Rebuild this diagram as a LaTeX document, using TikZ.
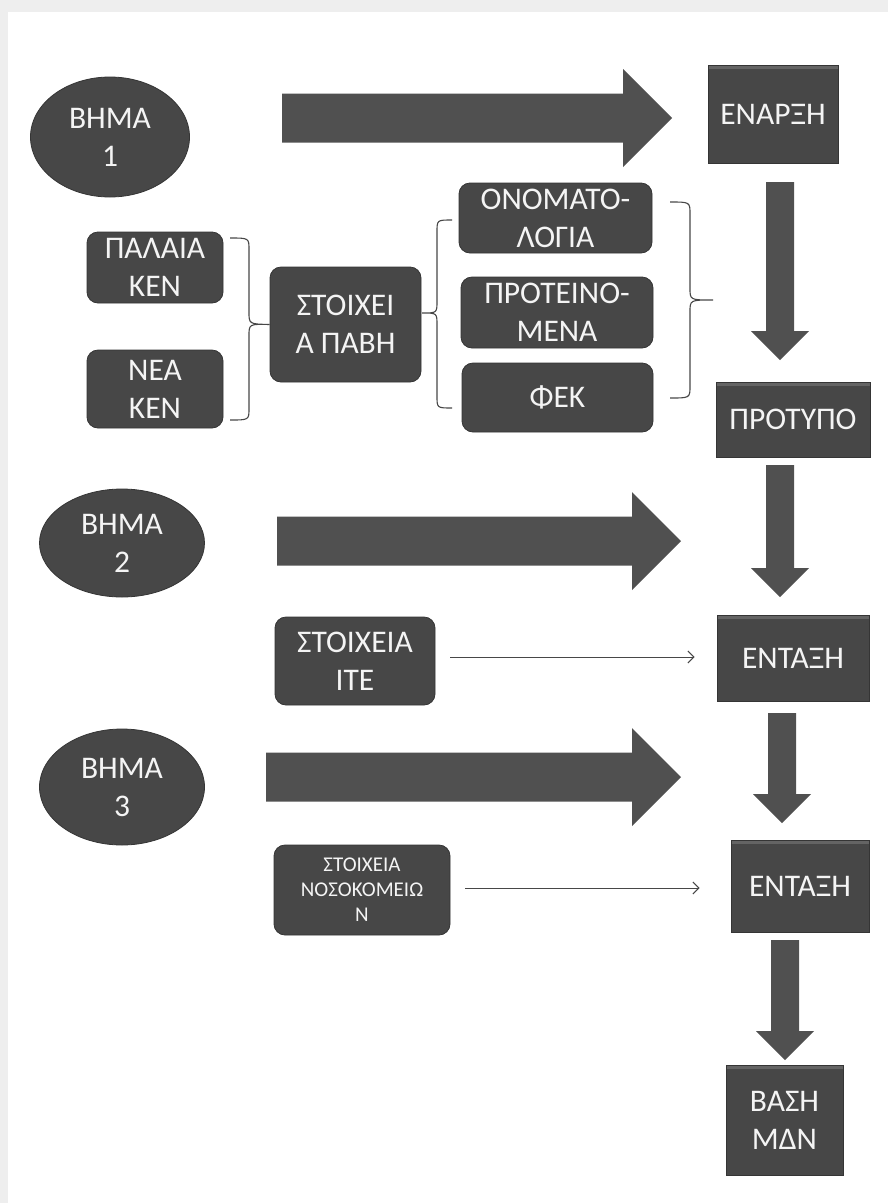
\documentclass[tikz,border=0pt]{standalone}
\usepackage{fontspec}
\setmainfont{Carlito}
\usetikzlibrary{shapes.geometric,arrows.meta,calc}
\definecolor{boxgray}{HTML}{474747}
\definecolor{arrowgray}{HTML}{505050}
\definecolor{edgegray}{HTML}{353535}
\definecolor{linegray}{HTML}{474747}
\definecolor{pagerim}{HTML}{EEEEEE}
\definecolor{labelwhite}{HTML}{F4F4F4}

% block arrow pointing right: #1 tail coordinate, #2 tip coordinate
\newcommand\flowblockR[2]{%
  \fill[arrowgray] ($(#1)+(0,-24.5)$) -- ($(#2)+(-49,-24.5)$) -- ($(#2)+(-49,-49)$)
    -- (#2) -- ($(#2)+(-49,49)$) -- ($(#2)+(-49,24.5)$) -- ($(#1)+(0,24.5)$) -- cycle;}
% block arrow pointing down: #1 tail coordinate, #2 tip coordinate
\newcommand\flowblockD[2]{%
  \fill[arrowgray] ($(#1)+(-14,0)$) -- ($(#2)+(-14,-29)$) -- ($(#2)+(-29,-29)$)
    -- (#2) -- ($(#2)+(29,-29)$) -- ($(#2)+(14,-29)$) -- ($(#1)+(14,0)$) -- cycle;}

\begin{document}
\begin{tikzpicture}[x=1pt,y=-1pt,
  every node/.style={text=labelwhite, align=center, inner sep=0pt},
  bigfont/.style={font=\fontsize{31.5}{38}\selectfont},
  smallfont/.style={font=\fontsize{21}{25}\selectfont},
  stepoval/.style={ellipse, fill=boxgray, draw=edgegray, line width=0.8pt, bigfont},
  roundbox/.style={rectangle, rounded corners=11pt, fill=boxgray, draw=edgegray, line width=0.8pt, bigfont},
  stagebox/.style={rectangle, fill=boxgray, draw=edgegray, line width=0.8pt, bigfont,
    path picture={\fill[white,opacity=0.16] (path picture bounding box.north west)
      rectangle ([yshift=-4pt]path picture bounding box.north east);}},
  feed/.style={draw=linegray, line width=1pt, -{Straight Barb[length=6pt,width=12pt]}},
  bracket/.style={draw=linegray, line width=1.1pt}
]
\useasboundingbox (0,0) rectangle (888,1203);
% page and scanner rim
\fill[pagerim] (0,0) rectangle (888,1203);
\fill[white] (8,12) rectangle (888,1203);

% steps
\node[stepoval, minimum width=159pt, minimum height=120pt] (b1) at (110,137) {ΒΗΜΑ\\1};
\node[stepoval, minimum width=165pt, minimum height=108pt] (b2) at (122,543) {ΒΗΜΑ\\2};
\node[stepoval, minimum width=165pt, minimum height=116pt] (b3) at (122,787) {ΒΗΜΑ\\3};

% sources of the data
\node[roundbox, minimum width=136pt, minimum height=71pt] (palaia) at (155,267.5) {ΠΑΛΑΙΑ\\ΚΕΝ};
\node[roundbox, minimum width=136pt, minimum height=78pt] (nea) at (155,389) {ΝΕΑ\\ΚΕΝ};
\node[roundbox, minimum width=151pt, minimum height=115pt] (stoix) at (345.5,324.5) {ΣΤΟΙΧΕΙ\\Α ΠΑΒΗ};
\node[roundbox, minimum width=193pt, minimum height=70pt] (onoma) at (555.5,218) {ΟΝΟΜΑΤΟ-\\ΛΟΓΙΑ};
\node[roundbox, minimum width=192pt, minimum height=71pt] (proteino) at (557,312.5) {ΠΡΟΤΕΙΝΟ-\\ΜΕΝΑ};
\node[roundbox, minimum width=191pt, minimum height=69pt] (fek) at (557.5,397.5) {ΦΕΚ};
\node[roundbox, minimum width=160pt, minimum height=88pt] (ite) at (355,661) {ΣΤΟΙΧΕΙΑ\\ΙΤΕ};
\node[roundbox, smallfont, minimum width=176pt, minimum height=90pt] (noso) at (362,890) {ΣΤΟΙΧΕΙΑ\\ΝΟΣΟΚΟΜΕΙΩ\\Ν};

% stages of the main column
\node[stagebox, minimum width=130pt, minimum height=98pt] (enarxi) at (773,114) {ΕΝΑΡΞΗ};
\node[stagebox, minimum width=154pt, minimum height=75pt] (protypo) at (793,419.5) {ΠΡΟΤΥΠΟ};
\node[stagebox, minimum width=152pt, minimum height=86pt] (entaxi1) at (793,658) {ΕΝΤΑΞΗ};
\node[stagebox, minimum width=138pt, minimum height=92pt] (entaxi2) at (800,886) {ΕΝΤΑΞΗ};
\node[stagebox, minimum width=117pt, minimum height=110pt] (vasi) at (784.5,1120) {ΒΑΣΗ\\ΜΔΝ};

% wide arrows from each step
\coordinate (r1t) at (282,118);  \coordinate (r1h) at (672,118);
\coordinate (r2t) at (277,541);  \coordinate (r2h) at (681,541);
\coordinate (r3t) at (266,777);  \coordinate (r3h) at (681,777);
\flowblockR{r1t}{r1h}
\flowblockR{r2t}{r2h}
\flowblockR{r3t}{r3h}

% downward arrows between stages
\coordinate (d1t) at (780,182);  \coordinate (d1h) at (780,360);
\coordinate (d2t) at (780,465);  \coordinate (d2h) at (780,597);
\coordinate (d3t) at (782,713);  \coordinate (d3h) at (782,823);
\coordinate (d4t) at (785,940);  \coordinate (d4h) at (785,1060);
\flowblockD{d1t}{d1h}
\flowblockD{d2t}{d2h}
\flowblockD{d3t}{d3h}
\flowblockD{d4t}{d4h}

% thin feeds into the integration stages
\draw[feed] ($(ite.east)+(15,-4)$) -- ($(entaxi1.west)+(-22,-1)$);
\draw[feed] ($(noso.east)+(15,-2)$) -- ($(entaxi2.west)+(-31,2)$);

% brackets grouping the sources
\draw[bracket] (230,238) .. controls (249,238) .. (249,250) -- (249,312)
  .. controls (249,324) .. (stoix.west) .. controls (249,324) .. (249,336)
  -- (249,408) .. controls (249,420) .. (230,420);
\draw[bracket] (452,220) .. controls (437,220) .. (437,232) -- (437,301)
  .. controls (437,313) .. (422,313) .. controls (437,313) .. (437,325)
  -- (437,396) .. controls (437,408) .. (452,408);
\draw[bracket] (670,202) .. controls (690,202) .. (690,214) -- (690,288)
  .. controls (690,300) .. (713,300) .. controls (690,300) .. (690,312)
  -- (690,386) .. controls (690,398) .. (670,398);
\end{tikzpicture}
\end{document}
